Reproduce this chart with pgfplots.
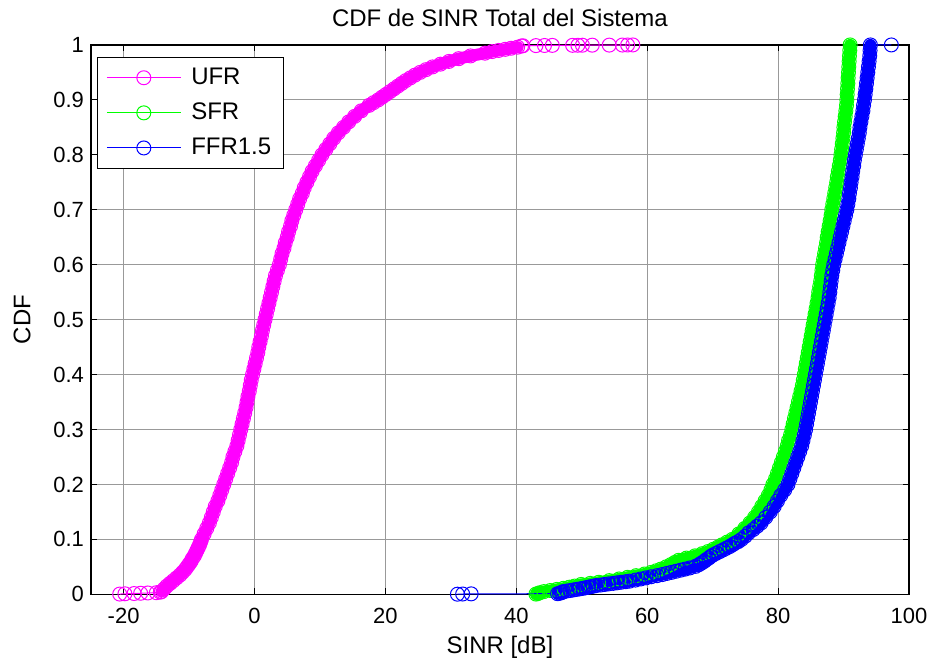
\documentclass[border=0pt]{standalone}
\usepackage{fontspec}
\setmainfont{Liberation Sans}
\usepackage{pgfplots}
\pgfplotsset{compat=1.18}

% CDF curves: columns are SINR [dB] and CDF
\pgfplotstableread{
x F
-20.6 0.0005
-19.8 0.001
-18.4 0.0015
-17.4 0.002
-16.3 0.0025
-15.0 0.003
-14.4 0.004
-14.2 0.005
-13.8 0.010
-13.4 0.015
-12.9 0.020
-12.4 0.025
-11.9 0.030
-11.4 0.035
-11.0 0.040
-10.6 0.045
-10.3 0.050
-10.0 0.055
-9.7 0.060
-9.5 0.065
-9.2 0.070
-9.0 0.075
-8.8 0.080
-8.6 0.085
-8.4 0.090
-8.25 0.095
-8.1 0.10
-7.7 0.11
-7.3 0.12
-6.9 0.13
-6.6 0.14
-6.3 0.15
-6.0 0.16
-5.6 0.17
-5.3 0.18
-5.0 0.19
-4.7 0.20
-4.4 0.21
-4.1 0.22
-3.8 0.23
-3.5 0.24
-3.3 0.25
-3.0 0.26
-2.7 0.27
-2.5 0.28
-2.3 0.29
-2.1 0.30
-1.9 0.31
-1.7 0.32
-1.5 0.33
-1.3 0.34
-1.15 0.35
-1.0 0.36
-0.8 0.37
-0.65 0.38
-0.5 0.39
-0.3 0.40
-0.1 0.41
0.1 0.42
0.3 0.43
0.5 0.44
0.65 0.45
0.85 0.46
1.05 0.47
1.2 0.48
1.4 0.49
1.6 0.50
1.8 0.51
2.0 0.52
2.2 0.53
2.4 0.54
2.6 0.55
2.8 0.56
3.0 0.57
3.2 0.58
3.5 0.59
3.8 0.60
4.0 0.61
4.2 0.62
4.5 0.63
4.7 0.64
5.0 0.65
5.2 0.66
5.5 0.67
5.7 0.68
6.0 0.69
6.3 0.70
6.6 0.71
6.9 0.72
7.3 0.73
7.6 0.74
8.0 0.75
8.4 0.76
8.8 0.77
9.3 0.78
9.8 0.79
10.3 0.80
10.9 0.81
11.5 0.82
12.1 0.83
12.8 0.84
13.6 0.85
14.4 0.86
15.3 0.87
16.3 0.88
17.5 0.89
18.2 0.895
18.9 0.900
19.5 0.905
20.1 0.910
20.7 0.915
21.3 0.920
21.9 0.925
22.5 0.930
23.1 0.935
23.8 0.940
24.5 0.945
25.3 0.950
26.2 0.955
27.2 0.960
28.4 0.965
29.7 0.970
31.2 0.975
33.0 0.980
35.2 0.985
36.3 0.988
37.3 0.990
38.3 0.992
39.2 0.994
40.2 0.996
40.8 0.998
41.0 0.9985
43.0 0.9988
44.3 0.999
45.5 0.9992
48.6 0.9993
49.4 0.9994
50.1 0.9995
51.6 0.9996
54.2 0.9997
56.2 0.9998
57.0 0.9999
57.8 1.0
}\ufr

\pgfplotstableread{
x F
43.0 0.0005
43.3 0.0015
43.6 0.003
44.2 0.005
45.2 0.007
46.2 0.009
47.2 0.011
48.1 0.013
48.9 0.015
49.9 0.018
51.3 0.020
52.6 0.022
54.2 0.025
55.7 0.028
57.0 0.031
58.3 0.034
59.6 0.037
60.6 0.040
61.4 0.043
62.1 0.046
62.9 0.050
63.6 0.054
64.2 0.058
64.8 0.062
66.0 0.066
67.3 0.070
68.4 0.074
69.3 0.078
70.1 0.082
70.8 0.086
71.4 0.090
72.2 0.095
73.0 0.10
74.0 0.11
74.9 0.12
75.7 0.13
76.4 0.14
77.0 0.15
77.5 0.16
78.0 0.17
78.5 0.18
78.9 0.19
79.2 0.20
79.6 0.21
79.9 0.22
80.2 0.23
80.5 0.24
80.8 0.25
81.1 0.26
81.4 0.27
81.6 0.28
81.9 0.29
82.1 0.30
82.3 0.31
82.5 0.32
82.7 0.33
82.9 0.34
83.1 0.35
83.3 0.36
83.5 0.37
83.7 0.38
83.85 0.39
84.0 0.40
84.15 0.41
84.3 0.42
84.45 0.43
84.6 0.44
84.75 0.45
84.9 0.46
85.05 0.47
85.2 0.48
85.35 0.49
85.5 0.50
85.65 0.51
85.8 0.52
85.95 0.53
86.1 0.54
86.2 0.55
86.35 0.56
86.5 0.57
86.6 0.58
86.7 0.59
86.8 0.60
86.95 0.61
87.1 0.62
87.25 0.63
87.4 0.64
87.5 0.65
87.65 0.66
87.8 0.67
87.95 0.68
88.1 0.69
88.2 0.70
88.35 0.71
88.5 0.72
88.65 0.73
88.8 0.74
88.95 0.75
89.05 0.76
89.2 0.77
89.35 0.78
89.5 0.79
89.6 0.80
89.7 0.81
89.8 0.82
89.9 0.83
90.0 0.84
90.05 0.85
90.15 0.86
90.25 0.87
90.35 0.88
90.45 0.89
90.5 0.90
90.55 0.91
90.6 0.92
90.65 0.93
90.7 0.94
90.75 0.95
90.8 0.96
90.85 0.97
90.9 0.98
90.95 0.99
91.0 1.00
}\sfr

\pgfplotstableread{
x F
31.0 0.0003
31.8 0.0006
33.1 0.0009
46.3 0.0012
46.6 0.002
46.9 0.003
47.0 0.004
47.2 0.005
47.7 0.006
48.2 0.007
48.7 0.008
49.2 0.009
49.7 0.010
50.2 0.011
50.6 0.012
51.0 0.013
51.4 0.014
51.8 0.015
52.2 0.016
52.9 0.017
53.5 0.018
54.1 0.019
54.8 0.020
55.4 0.021
56.0 0.022
56.7 0.023
57.3 0.024
58.2 0.026
59.0 0.028
59.8 0.030
60.6 0.032
61.5 0.034
62.3 0.036
63.0 0.038
63.7 0.040
64.4 0.042
65.1 0.044
65.8 0.046
66.5 0.048
67.4 0.051
67.9 0.054
68.3 0.057
68.7 0.060
69.0 0.063
69.4 0.066
69.7 0.069
70.1 0.072
70.6 0.075
71.1 0.078
71.6 0.081
72.1 0.084
72.6 0.087
73.0 0.090
73.4 0.093
73.9 0.096
74.4 0.100
75.0 0.106
75.5 0.112
76.2 0.118
76.8 0.124
77.4 0.130
78.1 0.14
78.8 0.15
79.4 0.16
79.9 0.17
80.4 0.18
81.0 0.19
81.5 0.20
81.8 0.21
82.1 0.22
82.4 0.23
82.7 0.24
83.0 0.25
83.3 0.26
83.6 0.27
83.8 0.28
84.0 0.29
84.2 0.30
84.35 0.31
84.5 0.32
84.65 0.33
84.8 0.34
84.95 0.35
85.1 0.36
85.25 0.37
85.4 0.38
85.55 0.39
85.7 0.40
85.85 0.41
86.0 0.42
86.15 0.43
86.3 0.44
86.45 0.45
86.6 0.46
86.75 0.47
86.9 0.48
87.05 0.49
87.2 0.50
87.35 0.51
87.5 0.52
87.65 0.53
87.8 0.54
87.9 0.55
88.0 0.56
88.1 0.57
88.2 0.58
88.35 0.59
88.5 0.60
88.7 0.61
88.9 0.62
89.1 0.63
89.3 0.64
89.5 0.65
89.7 0.66
89.9 0.67
90.1 0.68
90.3 0.69
90.5 0.70
90.65 0.71
90.8 0.72
90.9 0.73
91.05 0.74
91.15 0.75
91.3 0.76
91.4 0.77
91.55 0.78
91.65 0.79
91.8 0.80
91.95 0.81
92.1 0.82
92.25 0.83
92.4 0.84
92.5 0.85
92.65 0.86
92.8 0.87
92.95 0.88
93.05 0.89
93.2 0.90
93.3 0.91
93.4 0.92
93.5 0.93
93.6 0.94
93.7 0.95
93.8 0.96
93.9 0.97
94.0 0.98
94.05 0.99
94.1 1.00
97.3 1.00
}\ffr

\definecolor{ufrc}{rgb}{1,0,1}
\definecolor{sfrc}{rgb}{0,1,0}
\definecolor{ffrc}{rgb}{0,0,1}

\begin{document}
\begin{tikzpicture}
\begin{axis}[
    scale only axis,
    width=409.5pt, height=275pt,
    xmin=-25, xmax=100, ymin=0, ymax=1,
    xtick={-20,0,20,40,60,80,100},
    ytick={0,0.1,0.2,0.3,0.4,0.5,0.6,0.7,0.8,0.9,1},
    yticklabel style={/pgf/number format/fixed},
    /pgf/number format/assume math mode=true,
    tick label style={font=\fontsize{11}{13}\selectfont},
    xticklabel style={yshift=-3.3pt},
    label style={font=\fontsize{12}{14}\selectfont},
    x label style={at={(axis description cs:0.5,-0.0964)}, anchor=center},
    y label style={at={(axis description cs:-0.0842,0.5)}, anchor=center},
    every axis title shift=0pt,
    title style={font=\fontsize{12}{14}\selectfont, inner sep=0pt,
        at={(axis description cs:0.5,1.049)}, anchor=center},
    title={CDF de SINR Total del Sistema},
    xlabel={SINR [dB]},
    ylabel={CDF},
    grid=major,
    major grid style={line width=0.4pt, black!40},
    axis line style={line width=0.6pt},
    tick style={black, line width=0.5pt},
    major tick length=3pt,
    clip=false,
    every axis plot/.append style={line width=0.5pt, mark=o, mark size=3.5pt},
    band/.style={forget plot, mark=none, line width=6pt, line join=round, line cap=round},
    legend cell align=left,
    legend image code/.code={
        \draw[mark repeat=2, mark phase=2] plot coordinates {(0pt,0pt) (18.5pt,0pt) (37pt,0pt)};
    },
    legend style={
        at={(axis description cs:0.0073,0.978)}, anchor=north west,
        draw=black, line width=0.5pt, fill=white,
        font=\fontsize{12}{14}\selectfont,
        inner xsep=4.5pt, inner ysep=4.25pt, row sep=5.75pt, column sep=3.5pt,
        nodes={inner xsep=1.5pt, inner ysep=1pt},
    },
]
% the dense part of each curve is a solid band of overlapping circles
\addplot[ufrc, band, restrict y to domain=0.0045:0.997] table[x=x, y=F] {\ufr};
\addplot[ufrc] table[x=x, y=F] {\ufr};
\addplot[sfrc, band] table[x=x, y=F] {\sfr};
\addplot[sfrc] table[x=x, y=F] {\sfr};
\addplot[ffrc, band, restrict x to domain=46:94.5] table[x=x, y=F] {\ffr};
\addplot[ffrc] table[x=x, y=F] {\ffr};
\legend{UFR, SFR, FFR1.5}
\end{axis}
% keep the figure margins of the reference
\path (-45.5pt,-33.5pt) rectangle (421.5pt,297.5pt);
\end{tikzpicture}
\end{document}
